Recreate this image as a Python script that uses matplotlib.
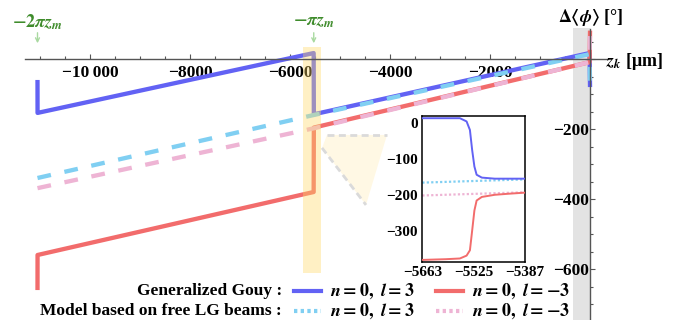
import numpy as np
import matplotlib
matplotlib.use('Agg')
import matplotlib.pyplot as plt
from matplotlib import ticker
from matplotlib.lines import Line2D

plt.rcParams['font.family'] = ['Liberation Serif', 'DejaVu Serif']
plt.rcParams['font.weight'] = 'bold'
plt.rcParams['mathtext.fontset'] = 'stix'

# ---- data ----
z_pi = -5525.          # -pi z_m
z_2pi = -11050.        # -2 pi z_m

# generalized Gouy phase, main panel
z_gen = [-11050, -11049, -5527, -5523, -8, 0]
gen_l3 = [-66, -154, 17, -158, 17, -74]
gen_lm3 = [-654, -560, -380, -196, -9, 75]

# model based on free LG beams, main panel
z_mod = [-11050, -5525, -8, 0]
mod_l3 = [-340, -160, 14, -74]
mod_lm3 = [-369, -198, -9, 75]

# inset (zoom around -pi z_m)
z_in = [-5663, -5600, -5562, -5544, -5535, -5529, -5523, -5517, -5503, -5468, -5430, -5387]
in_gen_l3 = [14, 14, 14, 5, -19, -75, -121, -144, -152, -155, -155, -155]
in_gen_lm3 = [-382, -380, -378, -370, -355, -300, -244, -216, -206, -200, -197, -194]
z_in_mod = [-5663, -5387]
in_mod_l3 = [-166, -157]
in_mod_lm3 = [-202, -193]

# zoom connector (dashed guides)
conn_h_z = [-5260, -4060]
conn_h_p = [-217, -217]
conn_d_z = [-5360, -4480]
conn_d_p = [-254, -417]

c_blue = '#6262f4'
c_red = '#f26c6c'
c_cyan = '#80cff2'
c_pink = '#eeb4d4'
green = '#3f8c2c'

fig = plt.figure(figsize=(6.73, 3.2), dpi=100)
ax = fig.add_axes([0, 0, 1, 1])
ax.set_xlim(-11800, 1660)
ax.set_ylim(-745.7, 168.6)

# shaded bands
ax.axvspan(-340, 0, ymin=0, ymax=(89 + 745.7) / (168.6 + 745.7), color='#e3e3e3', lw=0, zorder=0)
ax.axvspan(-5740, -5380, ymin=(-611 + 745.7) / 914.3, ymax=(34 + 745.7) / 914.3,
           color='#ffd966', alpha=0.38, lw=0, zorder=5)
ax.fill([conn_h_z[0], conn_h_z[1], conn_d_z[1], conn_d_z[0]],
        [conn_h_p[0], conn_h_p[1], conn_d_p[1], conn_d_p[0]],
        color='#fff0c4', alpha=0.45, lw=0, zorder=0.5)
ax.plot(conn_h_z, conn_h_p, color='#dadada', lw=2, ls=(0, (2.5, 1.6)), zorder=1)
ax.plot(conn_d_z, conn_d_p, color='#dadada', lw=2, ls=(0, (2.5, 1.6)), zorder=1)

lw = 3.1
ax.plot(z_gen, gen_l3, color=c_blue, lw=lw, solid_joinstyle='round', zorder=2)
ax.plot(z_gen, gen_lm3, color=c_red, lw=lw, solid_joinstyle='round', zorder=2)
ax.plot(z_mod, mod_l3, color=c_cyan, lw=lw, ls=(0, (3.2, 3.2)), zorder=3)
ax.plot(z_mod, mod_lm3, color=c_pink, lw=lw, ls=(0, (3.2, 3.2)), zorder=3)

# axes through the origin
for s in ['top', 'right']:
    ax.spines[s].set_visible(False)
ax.spines['left'].set_position(('data', 0))
ax.spines['bottom'].set_position(('data', 0))
ax.spines['left'].set_bounds(-750, 85)
ax.spines['bottom'].set_bounds(-11300, 360)
for s in ['left', 'bottom']:
    ax.spines[s].set_color('#555555')
    ax.spines[s].set_linewidth(1.0)
    ax.spines[s].set_zorder(6)

ax.xaxis.set_major_locator(ticker.FixedLocator(np.arange(-10000, 1, 2000)))
ax.xaxis.set_minor_locator(ticker.FixedLocator(np.arange(-11000, 1, 500)))
ax.yaxis.set_major_locator(ticker.FixedLocator([-600, -400, -200, 0]))
ax.yaxis.set_minor_locator(ticker.FixedLocator(np.arange(-700, 51, 50)))

def fmt(v, pos):
    if v == 0:
        return ''
    s = '%d' % abs(v)
    if abs(v) >= 10000:
        s = s[:-3] + '\u2009' + s[-3:]
    return '\u2212' + s

ax.xaxis.set_major_formatter(ticker.FuncFormatter(fmt))
ax.yaxis.set_major_formatter(ticker.FuncFormatter(fmt))
ax.tick_params(axis='both', which='both', direction='in', color='#555555', labelsize=12.5)
ax.tick_params(axis='both', which='major', length=3.5, width=0.8)
ax.tick_params(axis='both', which='minor', length=2.2, width=0.8)
ax.tick_params(axis='x', pad=4)
ax.tick_params(axis='y', pad=0.5)

# axis labels
fig.text(591 / 673, 1 - 17 / 320, r'$\Delta\langle\phi\rangle$ [°]', ha='center', va='center',
         fontsize=13)
fig.text(606 / 673, 1 - 61 / 320, r'$z_k$ [μm]', ha='left', va='center', fontsize=13)

# green markers
for zz, lab in [(z_2pi, r'$-2\pi z_m$'), (z_pi, r'$-\pi z_m$')]:
    ax.text(zz, 106, lab, color=green, ha='center', va='center', fontsize=13, zorder=7)
    ax.annotate('', xy=(zz, 45), xytext=(zz, 75),
                arrowprops=dict(arrowstyle='->', color='#a9d9a0', lw=1.0,
                                mutation_scale=7, shrinkA=0, shrinkB=0), zorder=7)

# inset
axi = fig.add_axes([422.3 / 673, 1 - 261.7 / 320, 102.7 / 673, 146 / 320])
axi.plot(z_in, in_gen_l3, color=c_blue, lw=1.4, zorder=3)
axi.plot(z_in, in_gen_lm3, color=c_red, lw=1.4, zorder=3)
axi.plot(z_in_mod, in_mod_l3, color=c_cyan, lw=1.6, ls=(0, (1, 1)), zorder=2)
axi.plot(z_in_mod, in_mod_lm3, color=c_pink, lw=1.6, ls=(0, (1, 1)), zorder=2)
axi.set_xlim(-5663, -5387)
axi.set_ylim(-387, 21)
axi.set_xticks([-5663, -5525, -5387])
axi.set_yticks([0, -100, -200, -300])
axi.xaxis.set_major_formatter(ticker.FuncFormatter(lambda v, p: '\u2212%d' % abs(v)))
axi.yaxis.set_major_formatter(ticker.FuncFormatter(lambda v, p: '0' if v == 0 else '\u2212%d' % abs(v)))
axi.tick_params(length=0, labelsize=11, pad=3)
for s in axi.spines.values():
    s.set_linewidth(1.1)
    s.set_color('black')

# legend
ly1, ly2 = 1 - 291 / 320, 1 - 311 / 320
fig.text(282 / 673, ly1, 'Generalized Gouy :', ha='right', va='center', fontsize=12.5)
fig.text(282 / 673, ly2, 'Model based on free LG beams :', ha='right', va='center', fontsize=12.5)
fig.add_artist(Line2D([294 / 673, 321 / 673], [ly1, ly1], color=c_blue, lw=3))
fig.add_artist(Line2D([436 / 673, 463 / 673], [ly1, ly1], color=c_red, lw=3))
fig.add_artist(Line2D([294 / 673, 321 / 673], [ly2, ly2], color=c_cyan, lw=3, ls=(0, (0.8, 0.8))))
fig.add_artist(Line2D([436 / 673, 463 / 673], [ly2, ly2], color=c_pink, lw=3, ls=(0, (0.8, 0.8))))
for yy in [ly1, ly2]:
    fig.text(330 / 673, yy, r'$n=0,\ l=3$', ha='left', va='center', fontsize=13)
    fig.text(472 / 673, yy, r'$n=0,\ l=-3$', ha='left', va='center', fontsize=13)

fig.savefig('out.png', dpi=100)
plt.close()
